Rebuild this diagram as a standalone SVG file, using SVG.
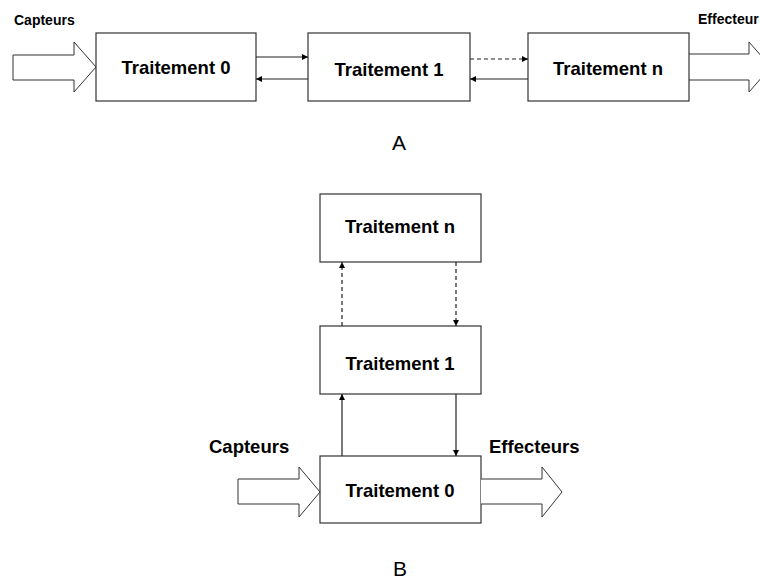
<svg xmlns="http://www.w3.org/2000/svg" width="760" height="579" viewBox="0 0 760 579">
<defs>
<style>
.box{fill:#fff;stroke:#333;stroke-width:1.2}
.big{fill:#fff;stroke:#333;stroke-width:1}
.lbl{font-family:"Liberation Sans",Arial,sans-serif;font-weight:bold;fill:#000;text-anchor:middle;font-size:18.5px}
.sm{font-family:"Liberation Sans",Arial,sans-serif;font-weight:bold;fill:#000;font-size:14px}
.md{font-family:"Liberation Sans",Arial,sans-serif;font-weight:bold;fill:#000;font-size:18.5px}
.cap{font-family:"Liberation Sans",Arial,sans-serif;fill:#000;font-size:21px;text-anchor:middle}
.c{stroke:#222;stroke-width:1.2;fill:none}
.d{stroke-dasharray:4,3}
</style>
<marker id="ah" viewBox="0 0 10 10" refX="10" refY="5" markerWidth="7" markerHeight="6" markerUnits="userSpaceOnUse" orient="auto">
<path d="M0,0 L10,5 L0,10 z" fill="#000"/>
</marker>
</defs>

<!-- Section A -->
<g id="capteurs-a">
<text class="sm" x="14" y="25">Capteurs</text>
<path class="big" d="M13,55 L74,55 L74,42 L96,67 L74,92 L74,80 L13,80 z"/>
</g>
<g id="effecteurs-a">
<text class="sm" x="698" y="24">Effecteur</text>
<path class="big" d="M689,54 L749,54 L749,42 L771,67 L749,92 L749,80 L689,80"/>
</g>
<g id="a-t0">
<rect class="box" x="96" y="33" width="160" height="68"/>
<text class="lbl" x="176" y="74">Traitement 0</text>
</g>
<g id="a-t1">
<rect class="box" x="308" y="33" width="162" height="68"/>
<text class="lbl" x="389" y="76">Traitement 1</text>
</g>
<g id="a-tn">
<rect class="box" x="528" y="33" width="161" height="68"/>
<text class="lbl" x="608" y="75">Traitement n</text>
</g>
<text class="cap" x="399" y="150">A</text>

<!-- Section B -->
<g id="b-tn">
<rect class="box" x="320" y="194" width="161" height="68"/>
<text class="lbl" x="400" y="233">Traitement n</text>
</g>
<g id="b-t1">
<rect class="box" x="320" y="326" width="161" height="68"/>
<text class="lbl" x="400" y="370">Traitement 1</text>
</g>
<g id="b-t0">
<rect class="box" x="320" y="456" width="161" height="67"/>
<text class="lbl" x="400" y="497">Traitement 0</text>
</g>
<g id="capteurs-b">
<text class="md" x="209" y="453">Capteurs</text>
<path class="big" d="M238,479 L299,479 L299,467 L320,492 L299,517 L299,504 L238,504 z"/>
</g>
<g id="effecteurs-b">
<text class="md" x="489" y="453">Effecteurs</text>
<path class="big" d="M481,479 L542,479 L542,467 L562,492 L542,517 L542,504 L481,504"/>
</g>
<text class="cap" x="400" y="576">B</text>

<!-- connectors -->
<g id="connectors">
<line class="c" x1="256" y1="57" x2="308" y2="57" marker-end="url(#ah)"/>
<line class="c" x1="308" y1="79" x2="256" y2="79" marker-end="url(#ah)"/>
<line class="c d" x1="470" y1="59" x2="528" y2="59" marker-end="url(#ah)"/>
<line class="c" x1="528" y1="79" x2="470" y2="79" marker-end="url(#ah)"/>
<line class="c d" x1="342" y1="326" x2="342" y2="262" marker-end="url(#ah)"/>
<line class="c d" x1="456" y1="262" x2="456" y2="326" marker-end="url(#ah)"/>
<line class="c" x1="342" y1="456" x2="342" y2="394" marker-end="url(#ah)"/>
<line class="c" x1="456" y1="394" x2="456" y2="456" marker-end="url(#ah)"/>
</g>
</svg>
